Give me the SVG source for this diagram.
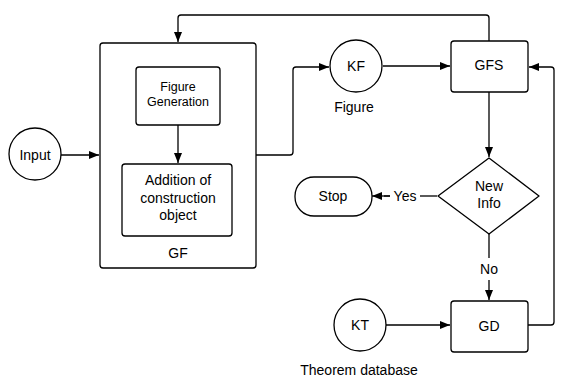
<svg xmlns="http://www.w3.org/2000/svg" width="564" height="378" viewBox="0 0 564 378">
<defs>
<marker id="ah" markerWidth="10" markerHeight="8" refX="10" refY="4" orient="auto" markerUnits="userSpaceOnUse">
<path d="M0,0 L10,4 L0,8 Z" fill="#000"/>
</marker>
<style>
.s{fill:#fff;stroke:#000;stroke-width:1.3}
.c{fill:none;stroke:#000;stroke-width:1.3;marker-end:url(#ah)}
.l{fill:none;stroke:#000;stroke-width:1.3}
text{font-family:"Liberation Sans",Arial,sans-serif;font-size:14px;fill:#000;text-anchor:middle;dominant-baseline:central}
.sm{font-size:12.5px}
</style>
</defs>
<rect width="564" height="378" fill="#fff"/>
<g id="GF">
<rect class="s" x="100" y="43" width="156" height="225" rx="3"/>
<text x="178" y="253">GF</text>
</g>
<g id="FigureGeneration">
<rect class="s" x="136" y="67" width="84" height="58" rx="3"/>
<text class="sm" x="178" y="87">Figure</text>
<text class="sm" x="178" y="102">Generation</text>
</g>
<g id="Addition">
<rect class="s" x="122" y="164" width="110" height="72" rx="3"/>
<text x="178" y="180">Addition of</text>
<text x="178" y="198">construction</text>
<text x="178" y="215">object</text>
</g>
<g id="Input">
<circle class="s" cx="35" cy="154" r="26"/>
<text x="35" y="155">Input</text>
</g>
<g id="KF">
<circle class="s" cx="356" cy="66" r="26"/>
<text x="356" y="66">KF</text>
<text x="354" y="107">Figure</text>
</g>
<g id="GFS">
<rect class="s" x="451" y="41" width="77" height="51" rx="3"/>
<text x="489" y="65">GFS</text>
</g>
<g id="NewInfo">
<path class="s" d="M489,158 L539,196 L489,234 L438,196 Z" stroke-linejoin="round"/>
<text x="489" y="186">New</text>
<text x="489" y="203">Info</text>
</g>
<g id="Stop">
<rect class="s" x="295" y="177" width="77" height="39" rx="19"/>
<text x="333" y="196">Stop</text>
</g>
<g id="GD">
<rect class="s" x="451" y="301" width="77" height="51" rx="3"/>
<text x="489" y="326">GD</text>
</g>
<g id="KT">
<circle class="s" cx="360" cy="325" r="26"/>
<text x="360" y="325">KT</text>
<text x="359" y="370">Theorem database</text>
</g>
<g id="connectors">
<path class="c" d="M61,155 L99,155"/>
<path class="c" d="M178,125 L178,163"/>
<path class="c" d="M256,155 L290,155 Q293,155 293,152 L293,70 Q293,67 296,67 L329,67"/>
<path class="c" d="M383,66 L450,66"/>
<path class="c" d="M489,41 L489,18 Q489,15 486,15 L181,15 Q178,15 178,18 L178,42"/>
<path class="c" d="M489,92 L489,157"/>
<path class="l" d="M437,196 L420,196"/>
<path class="l" d="M390,196 L384,196"/>
<path class="c" d="M390,196 L372,196"/>
<path class="l" d="M489,234 L489,258"/>
<path class="c" d="M489,280 L489,300"/>
<path class="c" d="M386,325 L450,325"/>
<path class="c" d="M528,325 L551,325 Q554,325 554,322 L554,70 Q554,67 551,67 L529,67"/>
<text x="405" y="196">Yes</text>
<text x="489" y="269">No</text>
</g>
</svg>
